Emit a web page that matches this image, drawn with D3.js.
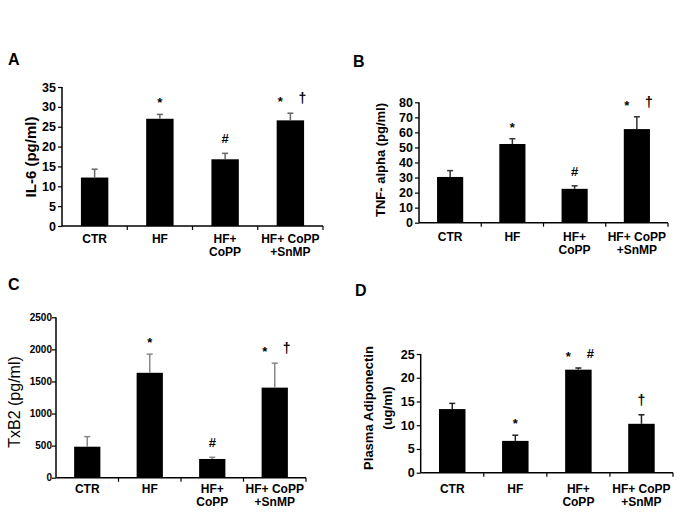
<!DOCTYPE html>
<html><head><meta charset="utf-8">
<script src="https://cdn.jsdelivr.net/npm/d3@7"></script>
<style>body{margin:0;background:#fff}svg text{font-family:"Liberation Sans",Arial,sans-serif;fill:#000}</style>
</head><body><svg id="c" width="685" height="513"></svg>
<script>
// ---- data ----
const categories = [["CTR"], ["HF"], ["HF+", "CoPP"], ["HF+ CoPP", "+SnMP"]];

const il6Values = [12.2, 27.0, 16.8, 26.6];
const il6Errors = [2.1, 1.1, 1.5, 1.8];
const il6Marks = [[], ["*"], ["#"], ["*", "†"]];
const il6Ticks = [0, 5, 10, 15, 20, 25, 30, 35];

const tnfValues = [30.4, 52.3, 22.5, 62.2];
const tnfErrors = [4.2, 3.5, 2.0, 8.2];
const tnfMarks = [[], ["*"], ["#"], ["*", "†"]];
const tnfTicks = [0, 10, 20, 30, 40, 50, 60, 70, 80];

const txb2Values = [483, 1635, 292, 1404];
const txb2Errors = [157, 290, 26, 381];
const txb2Marks = [[], ["*"], ["#"], ["*", "†"]];
const txb2Ticks = [0, 500, 1000, 1500, 2000, 2500];

const adipoValues = [13.4, 6.7, 21.7, 10.3];
const adipoErrors = [1.2, 1.2, 0.35, 1.9];
const adipoMarks = [[], ["*"], ["*", "#"], ["†"]];
const adipoTicks = [0, 5, 10, 15, 20, 25];

// ---- layout ----
const panels = [
  {letter: "A", lx: 8, ly: 65, values: il6Values, errors: il6Errors, marks: il6Marks, ticks: il6Ticks,
   x0: 62, x1: 323, yTop: 87, yBot: 226, label: ["IL-6 (pg/ml)"], labX: [35.5], labY: 157,
   labFont: "bold 15px", tickFont: "bold 12.5px", tickPad: 2, errColor: "#666", catOff: 17},
  {letter: "B", lx: 353, ly: 67, values: tnfValues, errors: tnfErrors, marks: tnfMarks, ticks: tnfTicks,
   x0: 419, x1: 668, yTop: 102.3, yBot: 222.7, label: ["TNF- alpha (pg/ml)"], labX: [385], labY: 160,
   labFont: "bold 13px", tickFont: "bold 12.5px", tickPad: 2, errColor: "#333", catOff: 18.5},
  {letter: "C", lx: 8, ly: 290, values: txb2Values, errors: txb2Errors, marks: txb2Marks, ticks: txb2Ticks,
   x0: 56, x1: 306, yTop: 317.3, yBot: 477.7, label: ["TxB2 (pg/ml)"], labX: [20], labY: 402,
   labFont: "16px", tickFont: "bold 10px", tickPad: 0, errColor: "#888", catOff: 15.5},
  {letter: "D", lx: 355, ly: 296, values: adipoValues, errors: adipoErrors, marks: adipoMarks, ticks: adipoTicks,
   x0: 420.7, x1: 673, yTop: 354, yBot: 472.7, label: ["Plasma Adiponectin", "(ug/ml)"], labX: [373, 392], labY: 408,
   labFont: "bold 13px", tickFont: "bold 12.5px", tickPad: 2, errColor: "#222", catOff: 20}
];

const svg = d3.select("#c");
const ff = '"Liberation Sans",Arial,sans-serif';

panels.forEach(p => {
  const g = svg.append("g");
  g.append("text").attr("x", p.lx).attr("y", p.ly).attr("fill", "#000")
    .style("font", "bold 16px " + ff).text(p.letter);

  const x = d3.scaleBand().domain(d3.range(categories.length)).range([p.x0, p.x1]).paddingInner(0.58).paddingOuter(0.29);
  const y = d3.scaleLinear().domain([0, d3.max(p.ticks)]).range([p.yBot, p.yTop]);

  // bars
  g.selectAll("rect.bar").data(p.values).join("rect")
    .attr("x", (d, i) => x(i)).attr("width", x.bandwidth())
    .attr("y", d => y(d)).attr("height", d => p.yBot - y(d)).attr("fill", "#000");

  // error bars (upper)
  p.values.forEach((v, i) => {
    const cx = x(i) + x.bandwidth() / 2;
    const et = y(v + p.errors[i]);
    g.append("line").attr("x1", cx).attr("x2", cx).attr("y1", y(v)).attr("y2", et)
      .attr("stroke", p.errColor).attr("stroke-width", 1.5);
    g.append("line").attr("x1", cx - 3).attr("x2", cx + 3).attr("y1", et).attr("y2", et)
      .attr("stroke", p.errColor).attr("stroke-width", 1.5);
    const ms = p.marks[i];
    const offs = ms.length === 2 ? [-10, 12] : [0];
    ms.forEach((m, k) => {
      const top = et - 15;
      g.append("text").attr("x", cx + offs[k]).attr("y", top + (m === "*" ? 8 : 5))
        .attr("text-anchor", "middle").attr("fill", "#000")
        .style("font", (m === "†" ? "bold 14px " : "bold 13px ") + ff).text(m);
    });
  });

  // y axis
  const ya = g.append("g").attr("transform", `translate(${p.x0},0)`)
    .call(d3.axisLeft(y).tickValues(p.ticks).tickSize(4).tickPadding(p.tickPad).tickFormat(d3.format("d")));
  ya.select(".domain").attr("stroke", "#000").attr("stroke-width", 1.5).attr("d", `M0,${p.yBot}V${p.yTop}`);
  ya.selectAll(".tick line").attr("stroke", "#000").attr("stroke-width", 1.2);
  ya.selectAll(".tick text").style("font", p.tickFont + " " + ff).attr("fill", "#000");

  // x axis
  const bw = (p.x1 - p.x0) / categories.length;
  g.append("line").attr("x1", p.x0).attr("x2", p.x1).attr("y1", p.yBot).attr("y2", p.yBot)
    .attr("stroke", "#000").attr("stroke-width", 1.5);
  d3.range(1, categories.length + 1).forEach(k => {
    g.append("line").attr("x1", p.x0 + k * bw).attr("x2", p.x0 + k * bw)
      .attr("y1", p.yBot).attr("y2", p.yBot + 4).attr("stroke", "#000").attr("stroke-width", 1.2);
  });
  categories.forEach((lines, i) => {
    const t = g.append("text").attr("text-anchor", "middle").attr("fill", "#000")
      .attr("x", x(i) + x.bandwidth() / 2).attr("y", p.yBot + p.catOff)
      .style("font", "bold 12px " + ff);
    lines.forEach((l, j) => t.append("tspan").attr("x", x(i) + x.bandwidth() / 2).attr("dy", j ? 13 : 0).text(l));
  });

  // y label
  p.label.forEach((l, j) => {
    g.append("text").attr("text-anchor", "middle").attr("fill", "#000")
      .attr("transform", `translate(${p.labX[j]},${p.labY}) rotate(-90)`)
      .style("font", p.labFont + " " + ff).text(l);
  });
});
</script></body></html>
